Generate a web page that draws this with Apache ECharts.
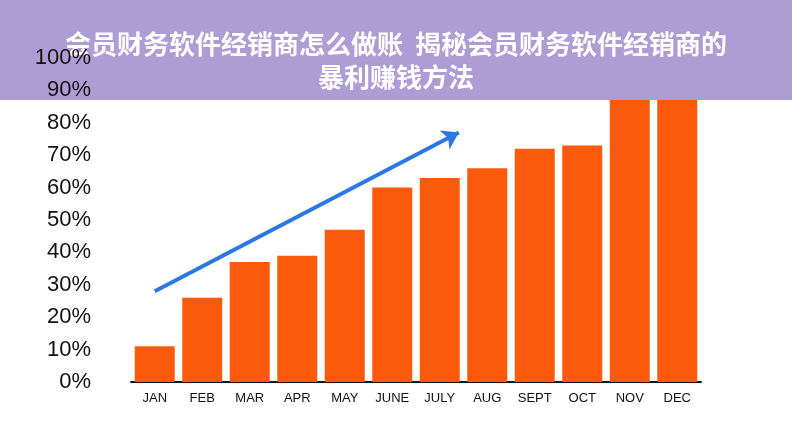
<!DOCTYPE html>
<html><head><meta charset="utf-8">
<script src="https://cdn.jsdelivr.net/npm/echarts@6/dist/echarts.min.js"></script>
<style>html,body{margin:0;padding:0;background:#fff}#c{width:792px;height:442px}</style>
</head><body><div id="c"></div>
<script>
const categories=['JAN','FEB','MAR','APR','MAY','JUNE','JULY','AUG','SEPT','OCT','NOV','DEC'];
const values=[11,26,37,39,47,60,63,66,72,73,87,87];
const yTicks=[0,10,20,30,40,50,60,70,80,90,100];
const arrowStart=[0,28];
const arrowEnd=[6.4,77];
const title='会员财务软件经销商怎么做账  揭秘会员财务软件经销商的\n暴利赚钱方法';
const chart=echarts.init(document.getElementById('c'));
chart.setOption({
  animation:false,
  grid:{left:131,right:91,top:58,bottom:60},
  xAxis:[{type:'category',data:categories,
    axisLine:{lineStyle:{color:'#111',width:2}},axisTick:{show:false},
    axisLabel:{color:'#111',fontSize:13,fontFamily:'Liberation Sans Narrow, Liberation Sans',margin:10}},
    {type:'value',min:-0.5,max:11.5,show:false}],
  yAxis:{type:'value',min:0,max:100,interval:10,
    axisLine:{show:false},axisTick:{show:false},splitLine:{show:false},
    axisLabel:{formatter:v=>v+'%',color:'#111',fontSize:22,fontFamily:'Liberation Sans',margin:40}},
  series:[{type:'bar',data:values,barWidth:40,itemStyle:{color:'#fb5a0c'}},
    {type:'line',xAxisIndex:1,data:[],
     markLine:{silent:true,symbol:['none','arrow'],symbolSize:16,label:{show:false},
       lineStyle:{color:'#2b78e4',width:4,type:'solid'},
       data:[[{coord:arrowStart},{coord:arrowEnd}]]}}],
  graphic:[{type:'rect',left:0,top:0,shape:{width:792,height:100},style:{fill:'rgba(150,130,200,0.78)'}},
    {type:'text',x:396,y:28,style:{text:title,fill:'#fff',fontSize:26,fontWeight:'bold',
      fontFamily:'Noto Sans CJK SC',align:'center',lineHeight:33}}]
});
</script></body></html>
